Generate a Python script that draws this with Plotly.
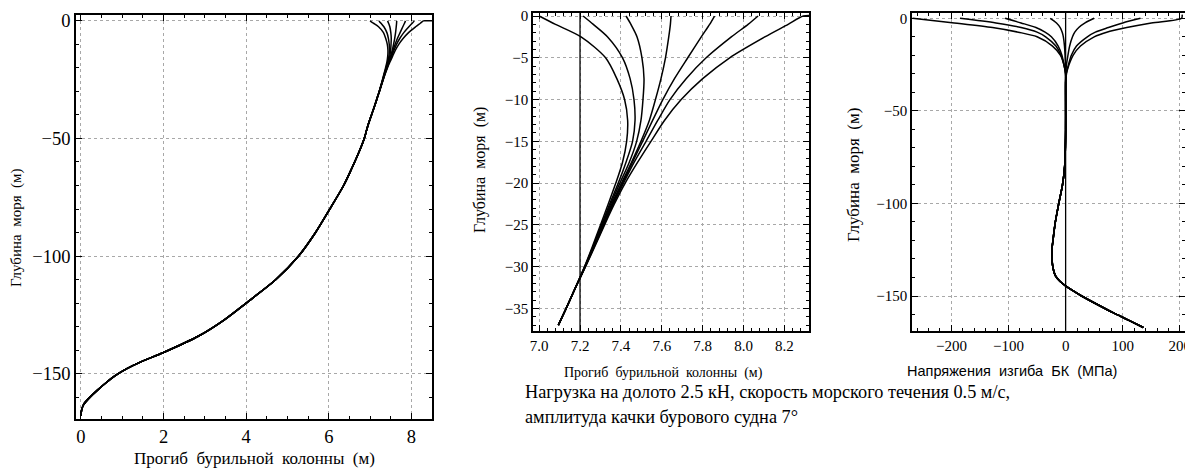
import plotly.graph_objects as go

# ---------------- data ----------------
# upper part of the drill-string deflection curves (7 cases), depth in m
TOP_DEPTH = [0, -1, -2.5, -5, -7.5, -10, -12.5, -15, -17.5, -20, -22.5, -25, -27.5, -30]
DEFL_C1 = [7.000, 7.080, 7.205, 7.325, 7.380, 7.418, 7.433, 7.428, 7.408, 7.375, 7.338, 7.300, 7.262, 7.222]
DEFL_C2 = [7.215, 7.265, 7.335, 7.408, 7.445, 7.464, 7.469, 7.457, 7.425, 7.387, 7.345, 7.305, 7.265, 7.223]
DEFL_C3 = [7.425, 7.449, 7.479, 7.503, 7.513, 7.508, 7.498, 7.477, 7.441, 7.395, 7.350, 7.308, 7.267, 7.224]
DEFL_C4 = [7.645, 7.642, 7.634, 7.618, 7.596, 7.569, 7.539, 7.498, 7.452, 7.403, 7.355, 7.311, 7.268, 7.225]
DEFL_C5 = [7.858, 7.834, 7.793, 7.727, 7.662, 7.605, 7.555, 7.506, 7.457, 7.408, 7.359, 7.314, 7.270, 7.225]
DEFL_C6 = [8.071, 8.022, 7.940, 7.817, 7.719, 7.640, 7.580, 7.523, 7.465, 7.413, 7.363, 7.317, 7.272, 7.226]
DEFL_C7 = [8.292, 8.218, 8.104, 7.932, 7.800, 7.695, 7.613, 7.547, 7.482, 7.421, 7.368, 7.320, 7.274, 7.227]
HOOK_DEPTH = [0.10, 0.05]
HOOK_DEFL = [8.50, 8.36]

# common lower part of the deflection curve
LOW_DEPTH = [-32.5, -35, -37, -40, -45, -50, -55, -63, -70, -79.6, -90, -100, -110,
             -120, -127, -134, -141, -145, -148, -151, -154, -157, -160, -163, -165.5, -168]
LOW_DEFL = [7.178, 7.132, 7.094, 7.035, 6.940, 6.860, 6.750, 6.550, 6.360, 6.040, 5.680,
            5.270, 4.720, 4.000, 3.480, 2.850, 2.000, 1.450, 1.100, 0.820, 0.600, 0.400,
            0.220, 0.070, 0.015, 0.0]
ZOOM_MIN_DEPTH = -37  # the zoomed deflection panel shows the curves down to this depth

# bending stress curves (7 cases), MPa
STRESS_TOP_DEPTH = [0, -2.5, -5, -7.5, -10, -15, -20, -25, -30]
STRESS_A = [-268, -195, -128, -83, -50, -23, -9, -3, 0]
STRESS_B = [-185, -122, -78, -50, -35, -17, -8, -3, 0]
STRESS_C = [-106, -78, -52, -36, -25, -13, -6.5, -3, 0]
STRESS_D = [-27, -16, -9.5, -6, -4, -2, -1, -0.5, 0]
STRESS_E = [50, 34, 23, 16, 12, 7, 4, 1.5, 0]
STRESS_F = [131, 100, 75, 52, 38, 19, 10, 5, 1]
STRESS_G = [203, 150, 107, 72, 50, 26, 13, 6, 1.5]
STRESS_HOOK_DEPTH = [2.0]
STRESS_HOOK = [204]
LOW_STRESS_DEPTH = [-35, -45, -60, -70, -80, -90, -100, -110, -119.5, -125, -129.5, -135,
                    -139, -142, -144.5, -147, -150, -155, -159, -163, -167]
LOW_STRESS = [0, 0, 0, -0.5, -1.7, -5.5, -12, -18, -22, -24, -24, -22, -18, -10, 0, 12, 28,
              58, 83, 110, 136]

REF_DEFL = 7.2     # vertical reference line in the zoomed deflection panel
REF_STRESS = 0     # vertical reference line in the stress panel

X1_TICKS = [0, 2, 4, 6, 8]
Y1_TICKS = [0, -50, -100, -150]
X2_TICKS = [7.0, 7.2, 7.4, 7.6, 7.8, 8.0, 8.2]
Y2_TICKS = [0, -5, -10, -15, -20, -25, -30, -35]
X3_TICKS = [-200, -100, 0, 100, 200]
Y3_TICKS = [0, -50, -100, -150]

X_TITLE = "Прогиб\u00a0\u00a0бурильной\u00a0\u00a0колонны\u00a0\u00a0(м)"
Y_TITLE = "Глубина\u00a0\u00a0моря\u00a0\u00a0(м)"
X3_TITLE = "Напряжения\u00a0\u00a0изгиба\u00a0\u00a0БК\u00a0\u00a0(МПа)"
NOTE_1 = "Нагрузка на долото 2.5 кН, скорость морского течения 0.5 м/с,"
NOTE_2 = "амплитуда качки бурового судна 7°"

# ---------------- figure ----------------
OFF = 8                       # page body margin that shifts the figure
W, H = 1193 - OFF, 472 - OFF
SERIF = "Liberation Serif, Times New Roman, serif"
SANS = "Liberation Sans, Arial, sans-serif"
LINE = dict(color="black", width=1.5)

fig = go.Figure()

defl_curves = [DEFL_C1, DEFL_C2, DEFL_C3, DEFL_C4, DEFL_C5, DEFL_C6, DEFL_C7]
for i, c in enumerate(defl_curves):
    ys = TOP_DEPTH + LOW_DEPTH
    xs = c + LOW_DEFL
    if i == len(defl_curves) - 1:
        ys = HOOK_DEPTH + ys
        xs = HOOK_DEFL + xs
    fig.add_trace(go.Scatter(x=xs, y=ys, mode="lines", line=dict(shape="spline", smoothing=0.8, **LINE),
                             xaxis="x", yaxis="y", showlegend=False, hoverinfo="skip"))
    zx = [x for x, y in zip(xs, ys) if y >= ZOOM_MIN_DEPTH]
    zy = [y for y in ys if y >= ZOOM_MIN_DEPTH]
    fig.add_trace(go.Scatter(x=zx, y=zy, mode="lines", line=dict(shape="spline", smoothing=0.8, **LINE),
                             xaxis="x2", yaxis="y2", showlegend=False, hoverinfo="skip"))

stress_curves = [STRESS_A, STRESS_B, STRESS_C, STRESS_D, STRESS_E, STRESS_F, STRESS_G]
for i, s in enumerate(stress_curves):
    ys = STRESS_TOP_DEPTH + LOW_STRESS_DEPTH
    xs = s + LOW_STRESS
    if i == len(stress_curves) - 1:
        ys = STRESS_HOOK_DEPTH + ys
        xs = STRESS_HOOK + xs
    fig.add_trace(go.Scatter(x=xs, y=ys, mode="lines", line=dict(shape="spline", smoothing=0.8, **LINE),
                             xaxis="x3", yaxis="y3", showlegend=False, hoverinfo="skip"))

# vertical reference lines
fig.add_shape(type="line", xref="x2", yref="y2 domain", x0=REF_DEFL, x1=REF_DEFL, y0=0, y1=1,
              line=dict(color="black", width=1.3))
fig.add_shape(type="line", xref="x3", yref="y3 domain", x0=REF_STRESS, x1=REF_STRESS, y0=0, y1=1,
              line=dict(color="black", width=1.3))


def px_x(a, b):
    return [(a - OFF) / W, (b - OFF) / W]


def px_y(top, bottom):
    return [1 - (bottom - OFF) / H, 1 - (top - OFF) / H]


def axis(domain, rng, tickvals, fmt=None, minor_dtick=None, size=15):
    d = dict(domain=domain, range=rng, tickmode="array", tickvals=tickvals,
             showline=True, linecolor="black", linewidth=1.5, mirror="ticks",
             ticks="inside", ticklen=6, tickwidth=1, tickcolor="black",
             showgrid=True, gridcolor="#a8a8a8", gridwidth=1, griddash="dot",
             zeroline=False, tickfont=dict(family=SERIF, size=size, color="black"),
             fixedrange=True, automargin=False)
    if fmt:
        d["tickformat"] = fmt
    if minor_dtick:
        d["minor"] = dict(dtick=minor_dtick, ticks="inside", ticklen=3, tickcolor="black",
                          tickwidth=1, showgrid=False)
    return d


fig.update_layout(
    width=W, height=H, autosize=False,
    margin=dict(l=0, r=0, t=0, b=0, pad=0),
    paper_bgcolor="white", plot_bgcolor="white",
    xaxis=axis(px_x(76, 432), [-0.12, 8.5], X1_TICKS, minor_dtick=0.5, size=18.5),
    yaxis=axis(px_y(15, 419), [-169.3, 2.5], Y1_TICKS, minor_dtick=10, size=18.5),
    xaxis2=dict(axis(px_x(533, 809), [6.97, 8.32], X2_TICKS, fmt=".1f", minor_dtick=0.04), anchor="y2"),
    yaxis2=dict(axis(px_y(13, 331), [-37.7, 0.36], Y2_TICKS, minor_dtick=1), anchor="x2"),
    xaxis3=dict(axis(px_x(912, 1185), [-269, 209], X3_TICKS, minor_dtick=20), anchor="y3"),
    yaxis3=dict(axis(px_y(13, 331), [-168.9, 2.86], Y3_TICKS, minor_dtick=10), anchor="x3"),
)


def note(text, x, y, size, family=SERIF, angle=0, xanchor="center"):
    fig.add_annotation(text=text, x=(x - OFF) / W, y=1 - (y - OFF) / H, xref="paper", yref="paper",
                       showarrow=False, textangle=angle, xanchor=xanchor, yanchor="middle",
                       font=dict(family=family, size=size, color="black"))


note(X_TITLE, 254, 458, 17)
note(Y_TITLE, 16, 228, 15, angle=-90)
note(X_TITLE, 663, 373, 14)
note(Y_TITLE, 480, 170, 16, angle=-90)
note(X3_TITLE, 1012, 371, 14.5, family=SANS)
note(Y_TITLE, 853, 175, 17, angle=-90)
note(NOTE_1, 523, 392, 18.3, xanchor="left")
note(NOTE_2, 523, 417, 18.3, xanchor="left")

fig.write_html("out.html")
